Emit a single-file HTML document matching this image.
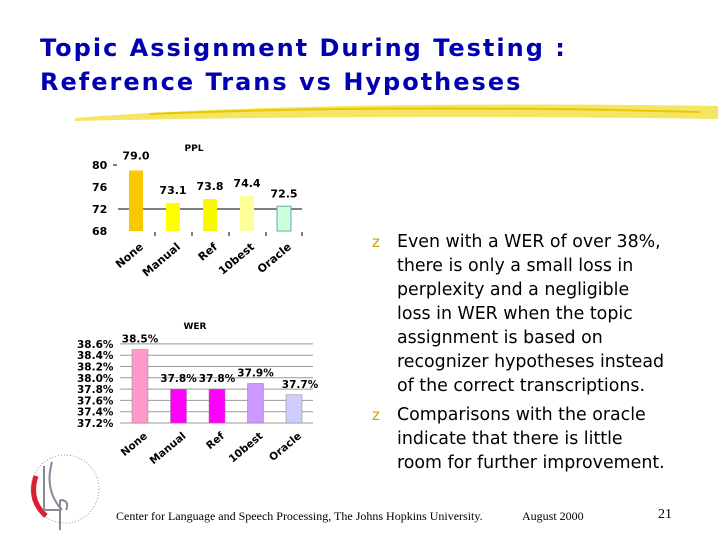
<!DOCTYPE html>
<html><head><meta charset="utf-8"><style>
body{margin:0;width:720px;height:540px;background:#fff;position:relative;overflow:hidden;font-family:"Liberation Sans",sans-serif}
.t{position:absolute;left:40px;top:31px;font-family:"DejaVu Sans",sans-serif;font-weight:bold;font-size:24px;color:#0000b0;line-height:34px;letter-spacing:2px;white-space:nowrap}
.b{position:absolute;left:372px;font-family:"DejaVu Sans",sans-serif;font-size:17.4px;color:#000;line-height:24px;white-space:nowrap}
.f{position:absolute;top:509px;font-family:"Liberation Serif",serif;font-size:12px}
</style></head><body>
<div class="t">Topic Assignment During Testing :<br>Reference Trans vs Hypotheses</div>
<svg width="720" height="540" style="position:absolute;left:0;top:0">
<path d="M75 118 Q300 100 718 106 L718 119 Q400 114 75 121Z" fill="#f2e14a" opacity="0.85"/>
<path d="M150 114 Q400 104 700 112" stroke="#e8c800" stroke-width="2" fill="none"/>
<g>
<circle cx="65" cy="489" r="34" fill="none" stroke="#999" stroke-dasharray="1 2"/>
<path d="M36 476 Q28 500 46 516" stroke="#d92030" stroke-width="5" fill="none"/>
<path d="M44 466 L44 510 L60 510 M52 462 Q44 490 62 510 M60 500 L60 530 M60 500 Q70 500 66 510" stroke="#889" stroke-width="2" fill="none"/>
</g>
</svg>
<svg id="ppl" width="720" height="540" style="position:absolute;left:0;top:0"></svg>
<div class="b" style="top:230px"><span style="position:absolute;left:0;color:#c8a000;font-size:15px">z</span><div style="padding-left:25px">Even with a WER of over 38%,<br>there is only a small loss in<br>perplexity and a negligible<br>loss in WER when the topic<br>assignment is based on<br>recognizer hypotheses instead<br>of the correct transcriptions.</div></div>
<div class="b" style="top:403px"><span style="position:absolute;left:0;color:#c8a000;font-size:15px">z</span><div style="padding-left:25px">Comparisons with the oracle<br>indicate that there is little<br>room for further improvement.</div></div>
<div class="f" style="left:116px">Center for Language and Speech Processing, The Johns Hopkins University.</div>
<div class="f" style="left:522px">August 2000</div>
<div class="f" style="left:658px;font-size:14px;top:507px">21</div>
<script>
const cats=["None","Manual","Ref","10best","Oracle"];
const pplVals=[79.0,73.1,73.8,74.4,72.5];
const pplTicks=[80,76,72,68];
const werVals=[38.5,37.8,37.8,37.9,37.7];
const werTicks=[38.6,38.4,38.2,38.0,37.8,37.6,37.4,37.2];
const NS="http://www.w3.org/2000/svg";
const svg=document.getElementById('ppl');
function mk(t,a,txt){const e=document.createElementNS(NS,t);for(const k in a)e.setAttribute(k,a[k]);if(txt!==undefined)e.textContent=txt;svg.appendChild(e);return e;}
const FF='"DejaVu Sans",sans-serif';
// PPL
const py=v=>231-(v-68)*5.5, px=i=>136+i*37;
const pplCol=["#f8c800","#ffff00","#f8f800","#ffff99","#ccffdd"];
let e=mk('text',{x:194,y:151,'font-size':9,'font-weight':'bold','text-anchor':'middle','font-family':FF},"PPL");


e=mk('line',{x1:118,x2:302,y1:py(72),y2:py(72),stroke:'#000'});


pplTicks.forEach(t=>{e=mk('text',{x:92,y:py(t)+4,'font-size':11,'font-weight':'bold','font-family':FF},String(t));

});
mk('line',{x1:113,x2:117,y1:py(80),y2:py(80),stroke:'#000'});
pplVals.forEach((v,i)=>{
e=mk('rect',{x:px(i)-7,y:py(v),width:14,height:py(68)-py(v),fill:pplCol[i],stroke:i==4?'#6aa':'none'});


e=mk('text',{x:px(i),y:py(v)-(i==0?11:9),'font-size':11,'font-weight':'bold','text-anchor':'middle','font-family':FF},v.toFixed(1));


if(i>0)mk('line',{x1:px(i)-18,x2:px(i)-18,y1:232,y2:236,stroke:'#000'});
e=mk('text',{x:px(i)+8,y:248,'font-size':11,'font-weight':'bold','text-anchor':'end','font-family':FF,transform:`rotate(-40 ${px(i)+8} 248)`},cats[i]);


});
mk('line',{x1:px(4)+18,x2:px(4)+18,y1:232,y2:236,stroke:'#000'});
// WER
const wy=v=>423-(v-37.2)/0.2*11.3, wx=i=>140+i*38.5;
const werCol=["#ff99cc","#ff00ff","#ff00ff","#cc99ff","#ccccff"];
e=mk('text',{x:195,y:329,'font-size':9,'font-weight':'bold','text-anchor':'middle','font-family':FF},"WER");


werTicks.forEach(t=>{
mk('line',{x1:120,x2:313,y1:wy(t),y2:wy(t),stroke:'#999'});
e=mk('text',{x:77,y:wy(t)+4,'font-size':10.5,'font-weight':'bold','font-family':FF},t.toFixed(1)+"%");

});
werVals.forEach((v,i)=>{
e=mk('rect',{x:wx(i)-8,y:wy(v),width:16,height:wy(37.2)-wy(v),fill:werCol[i],stroke:'#888','stroke-width':0.5});


e=mk('text',{x:wx(i)+(i==4?6:0),y:wy(v)-7,'font-size':10.5,'font-weight':'bold','text-anchor':'middle','font-family':FF},v.toFixed(1)+"%");


e=mk('text',{x:wx(i)+8,y:437,'font-size':10.5,'font-weight':'bold','text-anchor':'end','font-family':FF,transform:`rotate(-40 ${wx(i)+8} 437)`},cats[i]);


});
</script>
</body></html>
